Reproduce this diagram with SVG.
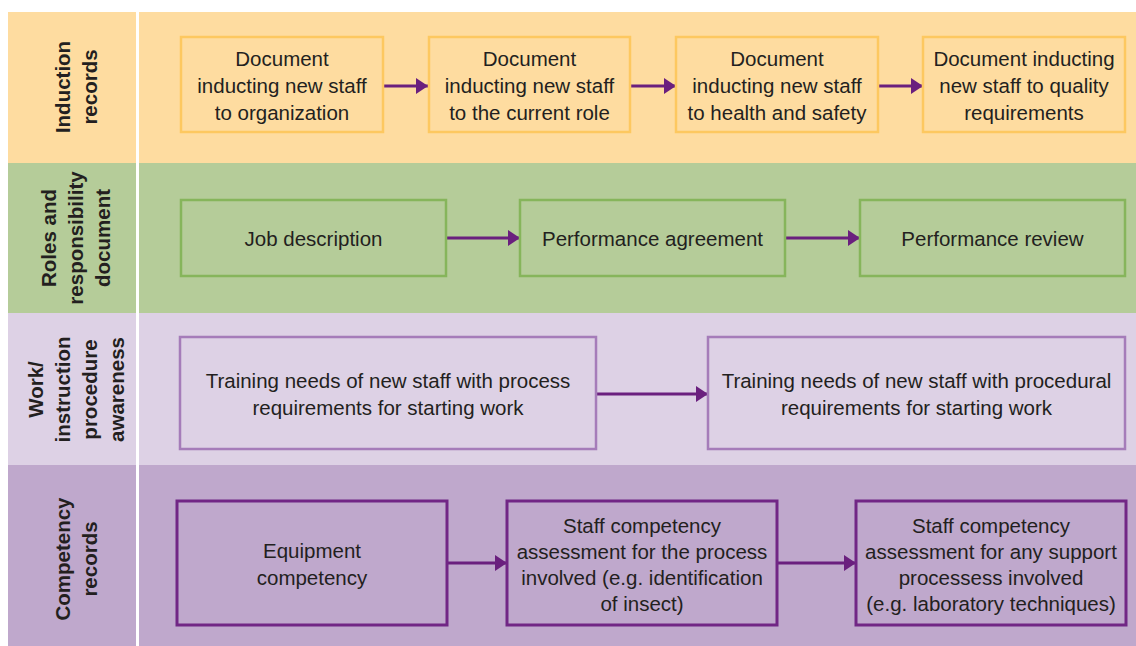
<svg xmlns="http://www.w3.org/2000/svg" width="1136" height="646" viewBox="0 0 1136 646">
<style>
.t{font-family:"Liberation Sans",Arial,sans-serif;font-size:20.5px;fill:#231F20;text-anchor:middle}
.lab{font-family:"Liberation Sans",Arial,sans-serif;font-size:20.5px;font-weight:bold;fill:#231F20;text-anchor:middle}
.b1{fill:none;stroke:#FDC860;stroke-width:2.5}
.b2{fill:none;stroke:#86B55B;stroke-width:2.5}
.b3{fill:none;stroke:#A57CB9;stroke-width:2.5}
.b4{fill:none;stroke:#712685;stroke-width:3}
.c{stroke:#6A1F7E;stroke-width:3;fill:none;marker-end:url(#ah)}
</style>
<defs>
<marker id="ah" markerUnits="userSpaceOnUse" markerWidth="14" markerHeight="18" refX="12" refY="8" orient="auto">
<path d="M0,0 L12,8 L0,16 Z" fill="#6A1F7E"/>
</marker>
</defs>
<rect width="1136" height="646" fill="#FFFFFF"/>
<g id="bands">
<rect x="8" y="12" width="1128" height="151" fill="#FEDCA0"/>
<rect x="8" y="163" width="1128" height="150" fill="#B5CC99"/>
<rect x="8" y="313" width="1128" height="152" fill="#DDD1E5"/>
<rect x="8" y="465" width="1128" height="181" fill="#BFA8CC"/>
<rect x="136" y="12" width="3" height="634" fill="#FFFFFF"/>
</g>
<g id="lane-labels">
<g id="lab-induction" transform="translate(75,87) rotate(-90)">
<text class="lab" x="0" y="-5.5">Induction</text>
<text class="lab" x="0" y="21.5">records</text>
</g>
<g id="lab-roles" transform="translate(75,238) rotate(-90)">
<text class="lab" x="0" y="-19.5">Roles and</text>
<text class="lab" x="0" y="7.5">responsibility</text>
<text class="lab" x="0" y="34.5">document</text>
</g>
<g id="lab-work" transform="translate(75,389.5) rotate(-90)">
<text class="lab" x="0" y="-32.5">Work/</text>
<text class="lab" x="0" y="-5.5">instruction</text>
<text class="lab" x="0" y="21.5">procedure</text>
<text class="lab" x="0" y="48.5">awareness</text>
</g>
<g id="lab-competency" transform="translate(75,559) rotate(-90)">
<text class="lab" x="0" y="-5.5">Competency</text>
<text class="lab" x="0" y="21.5">records</text>
</g>
</g>
<g id="connectors">
<line class="c" x1="383" y1="86" x2="428" y2="86"/>
<line class="c" x1="630" y1="86" x2="676" y2="86"/>
<line class="c" x1="878" y1="86" x2="923" y2="86"/>
<line class="c" x1="446" y1="238" x2="520" y2="238"/>
<line class="c" x1="785" y1="238" x2="860" y2="238"/>
<line class="c" x1="596" y1="394" x2="708" y2="394"/>
<line class="c" x1="447" y1="563" x2="507" y2="563"/>
<line class="c" x1="777" y1="563" x2="856" y2="563"/>
</g>
<g id="n1">
<rect class="b1" x="181" y="37" width="202" height="95"/>
<text class="t" x="282" y="66">Document</text>
<text class="t" x="282" y="93">inducting new staff</text>
<text class="t" x="282" y="120">to organization</text>
</g>
<g id="n2">
<rect class="b1" x="429" y="37" width="201" height="95"/>
<text class="t" x="529.5" y="66">Document</text>
<text class="t" x="529.5" y="93">inducting new staff</text>
<text class="t" x="529.5" y="120">to the current role</text>
</g>
<g id="n3">
<rect class="b1" x="676" y="37" width="202" height="95"/>
<text class="t" x="777" y="66">Document</text>
<text class="t" x="777" y="93">inducting new staff</text>
<text class="t" x="777" y="120">to health and safety</text>
</g>
<g id="n4">
<rect class="b1" x="923" y="37" width="202" height="95"/>
<text class="t" x="1024" y="66">Document inducting</text>
<text class="t" x="1024" y="93">new staff to quality</text>
<text class="t" x="1024" y="120">requirements</text>
</g>
<g id="n5">
<rect class="b2" x="181" y="200" width="265" height="76"/>
<text class="t" x="313.5" y="246">Job description</text>
</g>
<g id="n6">
<rect class="b2" x="520" y="200" width="265" height="76"/>
<text class="t" x="652.5" y="246">Performance agreement</text>
</g>
<g id="n7">
<rect class="b2" x="860" y="200" width="265" height="76"/>
<text class="t" x="992.5" y="246">Performance review</text>
</g>
<g id="n8">
<rect class="b3" x="180" y="337" width="416" height="112"/>
<text class="t" x="388" y="388">Training needs of new staff with process</text>
<text class="t" x="388" y="415">requirements for starting work</text>
</g>
<g id="n9">
<rect class="b3" x="708" y="337" width="417" height="112"/>
<text class="t" x="916.5" y="388">Training needs of new staff with procedural</text>
<text class="t" x="916.5" y="415">requirements for starting work</text>
</g>
<g id="n10">
<rect class="b4" x="177" y="501" width="270" height="124"/>
<text class="t" x="312" y="558">Equipment</text>
<text class="t" x="312" y="585">competency</text>
</g>
<g id="n11">
<rect class="b4" x="507" y="501" width="270" height="124"/>
<text class="t" x="642" y="533">Staff competency</text>
<text class="t" x="642" y="559">assessment for the process</text>
<text class="t" x="642" y="585">involved (e.g. identification</text>
<text class="t" x="642" y="611">of insect)</text>
</g>
<g id="n12">
<rect class="b4" x="856" y="501" width="270" height="124"/>
<text class="t" x="991" y="533">Staff competency</text>
<text class="t" x="991" y="559">assessment for any support</text>
<text class="t" x="991" y="585">processess involved</text>
<text class="t" x="991" y="611">(e.g. laboratory techniques)</text>
</g>
</svg>
